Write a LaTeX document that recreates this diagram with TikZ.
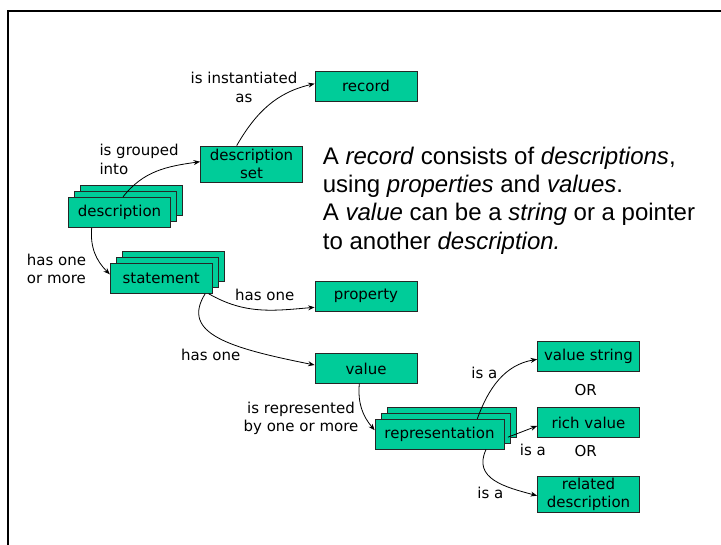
\documentclass[tikz,border=0pt]{standalone}
\usepackage{fontspec}
\setmainfont{DejaVu Sans}
\newfontfamily\parafont{Liberation Sans}
\usetikzlibrary{arrows.meta,calc}
\definecolor{boxgreen}{RGB}{0,204,153}
\tikzset{
  box/.style={draw=black!85, fill=boxgreen, line width=0.8pt, minimum width=102pt,
    minimum height=30pt, inner sep=0pt, align=center, font=\fontsize{15}{17.5}\selectfont},
  lbl/.style={font=\fontsize{15}{18.5}\selectfont, inner sep=0pt, align=center},
  para/.style={font=\parafont\fontsize{24}{28}\selectfont, inner sep=0pt, anchor=base west},
  conn/.style={line width=0.8pt, -{Stealth[length=6.5pt,width=5pt]}},
  frame/.style={line width=2pt}
}
\begin{document}
\begin{tikzpicture}[x=1pt,y=1pt]
\useasboundingbox (0,0) rectangle (721,545);
\coordinate (fa) at (7.7,0);
\coordinate (fb) at (7.7,534);
\coordinate (fc) at (721,534);
\draw[frame] (fa) -- (fb) -- (fc);

% boxes
\node[box] (descB) at (131.5,344.7) {};
\node[box] (descM) at (125.5,338.7) {};
\node[box] (desc) at (119.5,332.7) {description};
\node[box, minimum height=36pt] (dset) at (251.5,381) {description\\set};
\node[box] (record) at (366,459) {record};
\node[box] (stmtB) at (173.2,278.7) {};
\node[box] (stmtM) at (167.2,272.7) {};
\node[box] (stmt) at (161.2,266.7) {statement};
\node[box] (prop) at (366,249) {property};
\node[box] (val) at (366,176.5) {value};
\node[box, minimum width=129pt] (repB) at (451.5,122.8) {};
\node[box, minimum width=129pt] (repM) at (445.5,116.8) {};
\node[box, minimum width=129pt] (rep) at (439.5,110.8) {representation};
\node[box] (vstr) at (588.5,188.5) {value string};
\node[box] (rich) at (588.5,122.5) {rich value};
\node[box, minimum height=36.7pt] (rel) at (588.5,50.7) {related\\description};

% labels
\node[lbl] (l1) at (244,457.5) {is instantiated\\as};
\node[lbl, align=left, anchor=west] (l2) at (99.3,385.5) {is grouped\\into};
\node[lbl, align=left, anchor=west] (l3) at (26.7,276) {has one\\or more};
\node[lbl] (l4) at (264.8,250) {has one};
\node[lbl] (l5) at (210.8,190) {has one};
\node[lbl] (l6) at (301,126.5) {is represented\\by one or more};
\node[lbl] (l7) at (484.3,172.5) {is a};
\node[lbl] (l8) at (532.8,95) {is a};
\node[lbl] (l9) at (490.3,52.5) {is a};
\node[lbl] (or1) at (585.7,155) {OR};
\node[lbl] (or2) at (585.7,94) {OR};

% paragraph
\node[para] (p1) at (322.7,380.7) {A \textit{record} consists of \textit{descriptions},};
\node[para] (p2) at (322.7,352.4) {using \textit{properties} and \textit{values}.};
\node[para] (p3) at (322.7,324.1) {A \textit{value} can be a \textit{string} or a pointer};
\node[para] (p4) at (322.7,295.8) {to another \textit{description.}};

% connectors
\draw[conn] ($(desc.north)+(3.5,0)$) to[out=52,in=188] ($(dset.west)+(0,2.3)$);
\draw[conn] ($(dset.north)+(-14.8,0)$) to[out=60,in=193] ($(record.west)+(0,2.3)$);
\draw[conn] ($(desc.south)+(-27.8,0)$) to[out=-95,in=135] ($(stmt.west)+(0,4)$);
\draw[conn] ($(stmt.south east)+(-4,0)$) to[out=-30,in=185] ($(prop.west)+(0,-11.3)$);
\draw[conn] ($(stmt.south)+(44,0)$) .. controls +(-25,-40) and +(-85,17) .. ($(val.west)+(0,3.5)$);
\draw[conn] ($(val.south)+(-6.7,0)$) to[out=-95,in=130] ($(rep.west)+(0,4)$);
\draw[conn] ($(rep.north)+(37.8,0)$) to[out=70,in=190] ($(vstr.west)+(0,-2.8)$);
\draw[conn] ($(rep.east)+(3.5,-3)$) -- ($(rich.west)+(0,-3.5)$);
\draw[conn] ($(rep.south)+(46.5,0)$) to[out=-115,in=165,looseness=1.2] ($(rel.west)+(0,-1.4)$);
\end{tikzpicture}
\end{document}
